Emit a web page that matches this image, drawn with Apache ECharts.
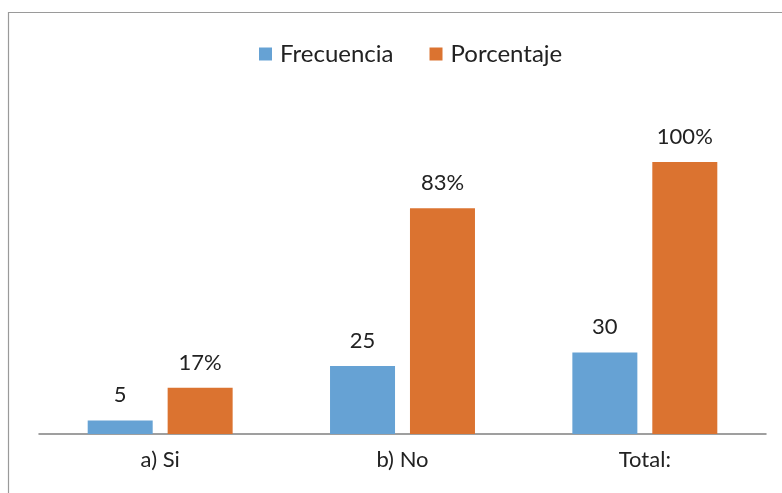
<!DOCTYPE html>
<html>
<head>
<meta charset="utf-8">
<script src="https://cdn.jsdelivr.net/npm/echarts@6/dist/echarts.min.js"></script>
<style>
html,body{margin:0;padding:0;background:#fff;}
#chart{width:782px;height:493px;}
</style>
</head>
<body>
<div id="chart"></div>
<script>
const categories = ['a) Si', 'b) No', 'Total:'];
const frecuencia = [5, 25, 30];
const porcentaje = [17, 83, 100];
const seriesNames = ['Frecuencia', 'Porcentaje'];

const FONT = 'Lato, "Open Sans", sans-serif';
const chart = echarts.init(document.getElementById('chart'));
chart.setOption({
  backgroundColor: '#ffffff',
  animation: false,
  graphic: [
    { type: 'line', shape: { x1: 8, y1: 12.5, x2: 782, y2: 12.5 }, style: { stroke: '#9a9a9a', lineWidth: 1.2 } },
    { type: 'line', shape: { x1: 8.5, y1: 12, x2: 8.5, y2: 493 }, style: { stroke: '#9a9a9a', lineWidth: 1.2 } }
  ],
  legend: {
    data: seriesNames,
    top: 37,
    left: 254,
    itemWidth: 13,
    itemHeight: 13,
    itemGap: 36,
    icon: 'rect',
    textStyle: { fontFamily: FONT, fontSize: 24, color: '#222', padding: [0, 0, 0, 3] }
  },
  grid: { left: 39, right: 16, top: 162, bottom: 59, containLabel: false },
  xAxis: {
    type: 'category',
    data: categories,
    axisLine: { lineStyle: { color: '#808080', width: 1.5 } },
    axisTick: { show: false },
    axisLabel: { fontFamily: FONT, fontSize: 22, color: '#222', margin: 15 }
  },
  yAxis: {
    type: 'value',
    min: 0,
    max: 100,
    show: false,
    splitLine: { show: false }
  },
  series: [
    {
      name: seriesNames[0],
      type: 'bar',
      data: frecuencia,
      barWidth: 65,
      barGap: '23%',
      itemStyle: { color: '#66a2d4' },
      label: { show: true, position: 'top', distance: 14, fontFamily: FONT, fontSize: 22, color: '#222' }
    },
    {
      name: seriesNames[1],
      type: 'bar',
      data: porcentaje,
      barWidth: 65,
      itemStyle: { color: '#db7330' },
      label: { show: true, position: 'top', distance: 14, fontFamily: FONT, fontSize: 22, color: '#222', formatter: '{c}%' }
    }
  ]
});
</script>
</body>
</html>
